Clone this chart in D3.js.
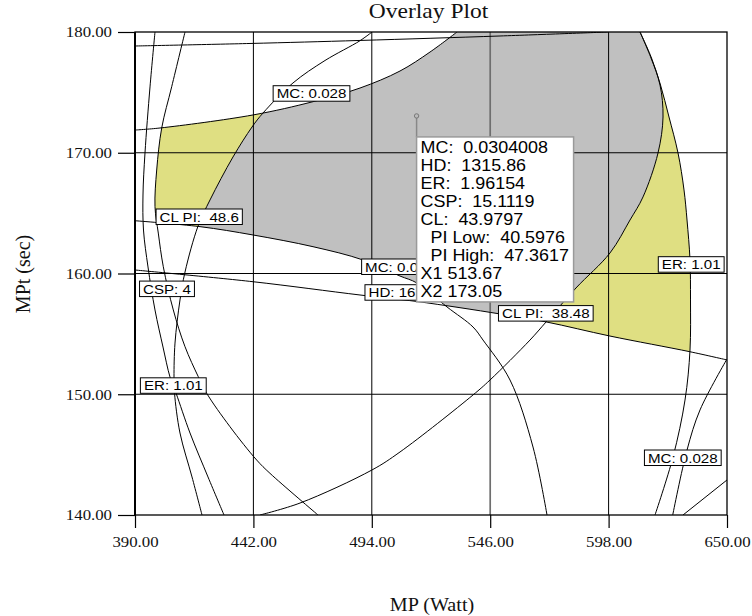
<!DOCTYPE html>
<html>
<head>
<meta charset="utf-8">
<script src="https://cdn.jsdelivr.net/npm/d3@7"></script>
<style>
  html, body { margin: 0; padding: 0; background: #fff; }
  svg { display: block; }
</style>
</head>
<body>
<svg id="chart" width="752" height="616"></svg>
<script>
// Axis ticks: X1 = MP (Watt), X2 = MPt (sec)
const xTicks = [390, 442, 494, 546, 598, 650];
const yTicks = [140, 150, 160, 170, 180];

// Contour lines as [MP, MPt] points
const contourTop   = [[390,178.84],[440.5,179.05],[488.8,179.3],[550.3,179.67],[597.7,180]];
const mcLowLeft    = [[390,171.88],[400.98,172.05],[441.82,173.13],[468.18,174.23],[488.82,175.36],[506.39,176.77],[519.56,178.34],[531.42,180]];
const clPiHigh     = [[494.09,180],[488.82,179.28],[473.45,177.64],[459.39,175.78],[446.22,173.29],[441.39,172.13],[433.04,169.65],[422.94,166.09],[417.69,163.93],[411.96,160.12],[409.76,157.81],[407.57,154.24],[407.13,151.43],[407.35,150.10],[409.76,146.79],[415.04,143.15],[419.43,140]];
const csp          = [[411.96,180],[406.12,175.47],[401.73,172.05],[399.53,168.57],[398.78,165.53],[400.23,163.35],[402.43,160.56],[406.82,156.98],[411.96,153.94],[417.80,151.45],[421.49,150.08],[431.72,147.31],[443.45,144.55],[449.29,143.45],[470.37,140]];
const erLeft       = [[398.78,180],[396.59,175.45],[394.39,169.98],[393.51,166.50],[393.73,163.60],[395.71,160.54],[398.78,156.98],[402.30,153.91],[405.37,151.43],[408.01,150.10],[414.16,146.79],[422.06,143.15],[429.09,140]];
const mcHigh       = [[390,164.37],[418.55,163.88],[441.82,163.19],[468.18,162.22],[490.14,161.12],[506.39,159.79],[513.85,159.21],[527.03,157.23],[538.45,155.57],[542.84,154.49],[554.70,151.18],[564.80,145.63],[570.95,140]];
const hd           = [[390,160.29],[441.82,159.32],[488.82,158.22],[513.85,157.68],[550.30,156.65],[570.81,155.98],[598.61,154.82],[633.75,153.52],[650,152.84]];
const clPiLow      = [[444.90,140],[462.47,140.99],[494.09,143.73],[506.39,145.22],[538.45,149.94],[545.92,151.18],[563.48,154.49],[570.51,155.98],[583.68,158.80],[598.61,161.70],[607.40,164.43],[613.11,166.34],[619.70,169.98],[621.90,172.96],[620.58,175.61],[616.62,177.85],[611.79,180]];
const erRight      = [[611.79,180],[616.84,177.85],[620.80,175.61],[624.53,172.96],[628.49,169.98],[631.12,166.92],[632.44,164.43],[633.75,161.12],[633.97,157.81],[633.75,153.66],[631.56,149.52],[626.29,144.80],[618.38,140]];
const mcLowRight   = [[650,152.92],[638.15,148.70],[632.44,145.38],[626.16,140]];
const contourCorner = [[650,142.90],[630.68,140]];

// Contour labels: text and the point it sits at (centre, or left edge when anchored at start)
const contourLabels = [
  { text: "MC: 0.028",     at: [467.52, 174.91] },
  { text: "CL PI:  48.6",  at: [418.20, 164.70] },
  { text: "CSP: 4",        at: [404.05, 158.73] },
  { text: "ER: 1.01",      at: [406.82, 150.72] },
  { text: "MC: 0.0",       at: [489.53, 160.56], anchor: "start", tail: 22 },
  { text: "HD: 16",        at: [491.00, 158.43], anchor: "start", tail: 22 },
  { text: "CL PI:  38.48", at: [570.42, 156.70] },
  { text: "ER: 1.01",      at: [634.28, 160.75] },
  { text: "MC: 0.028",     at: [630.59, 144.74] }
];

// Flagged point and its predicted responses
const flagPoint = [513.67, 173.05];
const flagRows = [
  ["MC:", "0.0304008"],
  ["HD:", "1315.86"],
  ["ER:", "1.96154"],
  ["CSP:", "15.1119"],
  ["CL:", "43.9797"],
  ["  PI Low:", "40.5976"],
  ["  PI High:", "47.3617"]
];

const svg = d3.select("#chart");
const plot = { left: 135, right: 727, top: 32, bottom: 515 };
const K = 1.12; // horizontal text stretch
const SERIF = "'Liberation Serif', 'Times New Roman', serif";
const SANS = "'Liberation Sans', Arial, sans-serif";

const x = d3.scaleLinear().domain([390, 650]).range([plot.left, plot.right]);
const y = d3.scaleLinear().domain([140, 180]).range([plot.bottom, plot.top]);

const line = d3.line()
  .x(d => x(d[0])).y(d => y(d[1]))
  .curve(d3.curveCatmullRom.alpha(0.5));

const defs = svg.append("defs");
defs.append("clipPath").attr("id", "plotClip")
  .append("rect")
  .attr("x", plot.left).attr("y", plot.top)
  .attr("width", plot.right - plot.left).attr("height", plot.bottom - plot.top);

// Outer corners just beyond the plot frame
const cL = plot.left - 3, cR = plot.right + 3, cT = plot.top - 3, cB = plot.bottom + 3;
const TL = [cL, cT], TR = [cR, cT], BR = [cR, cB], BL = [cL, cB];
function side(id, pts, corners) {
  const d = line(pts) + corners.map(c => `L${c[0]},${c[1]}`).join("") + "Z";
  defs.append("clipPath").attr("id", id).append("path").attr("d", d);
}
side("belowMcLow",    mcLowLeft, [TR, BR, BL]);
side("rightClPiHigh", clPiHigh,  [BR, TR]);
side("leftClPiHigh",  clPiHigh,  [BL, TL]);
side("aboveMcHigh",   mcHigh,    [BR, TR, TL]);
side("aboveHd",       hd,        [TR, TL]);
side("leftClPiLow",   clPiLow,   [TL, BL]);
side("rightClPiLow",  clPiLow,   [TR, BR]);
side("leftErRight",   erRight,   [BL, TL]);
side("rightCsp",      csp,       [BR, TR]);

// Fill the intersection of several sides by nesting clipped groups
function region(ids, color) {
  let g = svg.append("g").attr("clip-path", "url(#plotClip)");
  ids.forEach(id => { g = g.append("g").attr("clip-path", `url(#${id})`); });
  g.append("rect")
    .attr("x", plot.left).attr("y", plot.top)
    .attr("width", plot.right - plot.left).attr("height", plot.bottom - plot.top)
    .attr("fill", color);
}
const GRAY = "#c0c0c0", YELLOW = "#dfdf82";
region(["belowMcLow", "rightClPiHigh", "aboveMcHigh", "aboveHd", "leftClPiLow"], GRAY);
region(["rightClPiLow", "leftErRight", "aboveHd"], YELLOW);
region(["belowMcLow", "leftClPiHigh", "rightCsp", "aboveMcHigh"], YELLOW);

// Grid
const grid = svg.append("g");
xTicks.slice(1, -1).forEach(v => {
  grid.append("line")
    .attr("x1", x(v)).attr("x2", x(v)).attr("y1", plot.top).attr("y2", plot.bottom)
    .attr("stroke", v === 546 ? "#6e6e6e" : "#000")
    .attr("stroke-width", v === 546 ? 1.7 : 1);
});
yTicks.slice(1, -1).forEach(v => {
  grid.append("line")
    .attr("x1", plot.left).attr("x2", plot.right).attr("y1", y(v)).attr("y2", y(v))
    .attr("stroke", "#000").attr("stroke-width", 1);
});

// Contours
const contours = [contourTop, mcLowLeft, clPiHigh, csp, erLeft, mcHigh, hd, clPiLow, erRight, mcLowRight, contourCorner];
svg.append("g").attr("clip-path", "url(#plotClip)")
  .selectAll("path").data(contours).join("path")
  .attr("d", line)
  .attr("fill", "none").attr("stroke", "#000").attr("stroke-width", 1);

// Stretch text horizontally around its own anchor
function stretch(sel) {
  sel.each(function () {
    const t = d3.select(this);
    const tx = +t.attr("x") || 0;
    t.attr("x", tx / K).attr("transform", `scale(${K},1)`);
  });
}

// Axes
const yAxis = svg.append("g").attr("transform", `translate(${plot.left},0)`)
  .call(d3.axisLeft(y).tickValues(yTicks).tickFormat(d3.format(".2f"))
    .tickSize(17).tickPadding(6).tickSizeOuter(0));
const xAxis = svg.append("g").attr("transform", `translate(0,${plot.bottom})`)
  .call(d3.axisBottom(x).tickValues(xTicks).tickFormat(d3.format(".2f"))
    .tickSize(13).tickPadding(8).tickSizeOuter(0));
[yAxis, xAxis].forEach(a => {
  a.select(".domain").remove();
  a.selectAll(".tick line").attr("stroke", "#000").attr("stroke-width", 1.2);
  a.selectAll(".tick text")
    .attr("font-family", SERIF).attr("font-size", 15).attr("fill", "#111");
  stretch(a.selectAll(".tick text"));
});

// Frame
svg.append("rect")
  .attr("x", plot.left).attr("y", plot.top)
  .attr("width", plot.right - plot.left).attr("height", plot.bottom - plot.top)
  .attr("fill", "none").attr("stroke", "#000").attr("stroke-width", 1.3);
svg.append("line")
  .attr("x1", plot.left).attr("x2", plot.left).attr("y1", plot.top).attr("y2", plot.bottom)
  .attr("stroke", "#000").attr("stroke-width", 2);

// Titles
const title = svg.append("text")
  .attr("x", 428.6).attr("y", 18).attr("text-anchor", "middle")
  .attr("font-family", SERIF).attr("font-size", 21).attr("fill", "#111")
  .text("Overlay Plot");
stretch(title);
const xTitle = svg.append("text")
  .attr("x", 432).attr("y", 611).attr("text-anchor", "middle")
  .attr("font-family", SERIF).attr("font-size", 18).attr("fill", "#111")
  .text("MP (Watt)");
stretch(xTitle);
svg.append("text")
  .attr("transform", "translate(30,274) rotate(-90)")
  .attr("text-anchor", "middle")
  .attr("font-family", SERIF).attr("font-size", 20).attr("fill", "#111")
  .text("MPt (sec)");

// Contour labels
const lab = svg.append("g").selectAll("g").data(contourLabels).join("g")
  .attr("transform", d => `translate(${x(d.at[0])},${y(d.at[1])})`);
lab.each(function (d) {
  const g = d3.select(this);
  const rect = g.append("rect");
  const start = d.anchor === "start";
  const t = g.append("text")
    .attr("x", start ? 3.5 : 0).attr("y", 0).attr("dy", "0.36em")
    .attr("text-anchor", start ? "start" : "middle")
    .attr("font-family", SANS).attr("font-size", 13.5).attr("fill", "#000")
    .style("white-space", "pre")
    .text(d.text);
  stretch(t);
  const w = t.node().getComputedTextLength() * K + 7, h = 15.5;
  rect.attr("x", start ? 0 : -w / 2).attr("y", -h / 2)
    .attr("width", w + (d.tail || 0)).attr("height", h)
    .attr("fill", "#fff").attr("stroke", "#000").attr("stroke-width", 1);
});

// Flag with predicted responses
const px = x(flagPoint[0]), py = y(flagPoint[1]);
const boxTop = py + 21, boxW = 157, boxH = 165;
svg.append("line")
  .attr("x1", px).attr("x2", px).attr("y1", py).attr("y2", boxTop)
  .attr("stroke", "#888").attr("stroke-width", 1.5);
svg.append("circle").attr("cx", px).attr("cy", py).attr("r", 2.2)
  .attr("fill", "#bbb").attr("stroke", "#777").attr("stroke-width", 1);
svg.append("rect")
  .attr("x", px).attr("y", boxTop).attr("width", boxW).attr("height", boxH)
  .attr("fill", "#fff").attr("stroke", "#9a9a9a").attr("stroke-width", 1.5);
const rows = flagRows.map(r => r[0] + "  " + r[1])
  .concat(["X1 " + flagPoint[0].toFixed(2), "X2 " + flagPoint[1].toFixed(2)]);
const tip = svg.append("g").selectAll("text").data(rows).join("text")
  .attr("x", px + 4).attr("y", (d, i) => boxTop + 16.3 + i * 18)
  .attr("font-family", SANS).attr("font-size", 16).attr("fill", "#000")
  .style("white-space", "pre")
  .text(d => d);
stretch(tip);
</script>
</body>
</html>
